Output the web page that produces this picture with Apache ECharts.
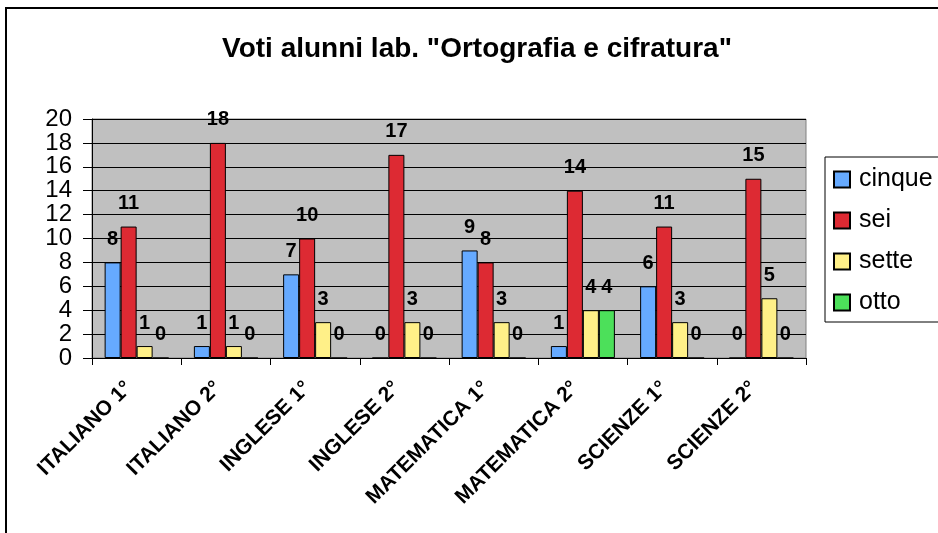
<!DOCTYPE html>
<html><head><meta charset="utf-8">
<script src="https://cdn.jsdelivr.net/npm/echarts@6/dist/echarts.min.js"></script>
<style>html,body{margin:0;padding:0;background:#fff}#c{width:938px;height:533px}</style>
</head><body><div id="c"></div>
<script>
const categories = ['ITALIANO 1°','ITALIANO 2°','INGLESE 1°','INGLESE 2°','MATEMATICA 1°','MATEMATICA 2°','SCIENZE 1°','SCIENZE 2°'];
const cinque = [8, 1, 7, 0, 9, 1, 6, 0];
const sei = [11, 18, 10, 17, 8, 14, 11, 15];
const sette = [1, 1, 3, 3, 3, 4, 3, 5];
const otto = [0, 0, 0, 0, 0, 4, 0, 0];
const yTicks = [0, 2, 4, 6, 8, 10, 12, 14, 16, 18, 20];

const FONT = 'Liberation Sans, Arial, sans-serif';
const chart = echarts.init(document.getElementById('c'));
function mk(name, data, color) {
  return {
    name, type: 'bar', data, barWidth: 16, barGap: '0%',
    itemStyle: { color, borderColor: '#000', borderWidth: 1 },
    label: { show: true, position: 'top', distance: 13, fontSize: 20, fontWeight: 'bold', color: '#000', fontFamily: FONT },
    emphasis: { disabled: true }, animation: false
  };
}
chart.setOption({
  animation: false,
  textStyle: { fontFamily: FONT },
  graphic: [{ type: 'rect', shape: { x: 6, y: 8, width: 1000, height: 600 }, style: { fill: 'none', stroke: '#000', lineWidth: 2 } }],
  title: { text: 'Voti alunni lab. "Ortografia e cifratura"', left: 472, textAlign: 'center', top: 30,
    textStyle: { fontSize: 28, fontWeight: 'bold', color: '#000', fontFamily: FONT } },
  legend: {
    orient: 'vertical', left: 825, top: 157, padding: [10, 40, 7, 8], itemGap: 16,
    itemWidth: 16, itemHeight: 16, icon: 'rect', borderColor: '#000', borderWidth: 1,
    textStyle: { fontSize: 25, lineHeight: 25, color: '#000', fontFamily: FONT, padding: [0, 0, 0, 4] },
    data: ['cinque', 'sei', 'sette', 'otto']
  },
  grid: { left: 92, right: 132, top: 119, bottom: 175, show: true, backgroundColor: '#c0c0c0', borderColor: '#808080', borderWidth: 1 },
  xAxis: {
    type: 'category', data: categories,
    axisLine: { lineStyle: { color: '#000' } },
    axisTick: { show: true, length: 7, lineStyle: { color: '#000' } },
    axisLabel: { rotate: 45, interval: 0, margin: 19, padding: [0, 11, 0, 0], fontSize: 21, fontWeight: 'bold', color: '#000', fontFamily: FONT }
  },
  yAxis: {
    type: 'value', min: yTicks[0], max: yTicks[yTicks.length - 1], interval: 2,
    axisLine: { show: true, lineStyle: { color: '#000' } },
    axisTick: { show: true, length: 9, lineStyle: { color: '#000' } },
    splitLine: { show: true, lineStyle: { color: '#000', width: 1 } },
    axisLabel: { fontSize: 24, color: '#000', margin: 20, fontFamily: FONT }
  },
  series: [
    mk('cinque', cinque, '#66aaff'),
    mk('sei', sei, '#dd2a33'),
    mk('sette', sette, '#fff088'),
    mk('otto', otto, '#4ce05a')
  ]
});
</script></body></html>
